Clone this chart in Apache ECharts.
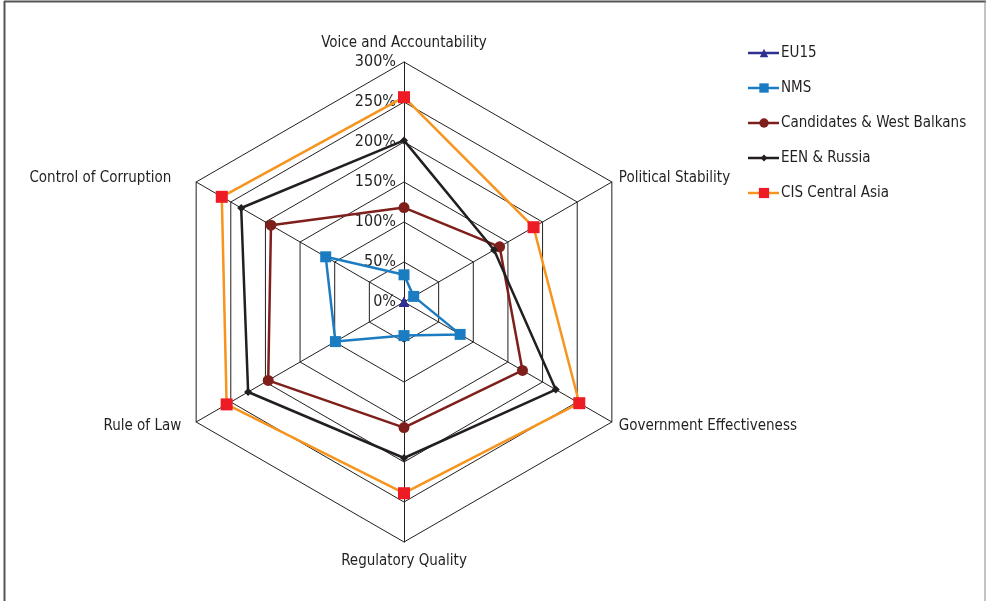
<!DOCTYPE html>
<html>
<head>
<meta charset="utf-8">
<script src="https://cdn.jsdelivr.net/npm/echarts@6/dist/echarts.min.js"></script>
<style>
html,body{margin:0;padding:0;background:#fff;}
#chart{width:986px;height:601px;}
</style>
</head>
<body>
<div id="chart"></div>
<script>
// Indicators in clockwise order starting from the top
const indicators = ['Voice and Accountability', 'Political Stability', 'Government Effectiveness', 'Regulatory Quality', 'Rule of Law', 'Control of Corruption'];
const seriesNames = ['EU15', 'NMS', 'Candidates & West Balkans', 'EEN & Russia', 'CIS Central Asia'];
const eu15 = [0, 0, 0, 0, 0, 0];
const nms = [34, 14, 81, 42, 99, 113];
const candidates = [118, 138, 171, 157, 196, 192];
const eenRussia = [202, 130, 219, 195, 225, 235];
const cisCentralAsia = [256, 187, 253, 239, 256, 263];
const tickValues = [0, 50, 100, 150, 200, 250, 300];

const values = [eu15, nms, candidates, eenRussia, cisCentralAsia];
const lineColors = ['#2e3192', '#1c7cc2', '#7f1f1c', '#231f20', '#f7941d'];
const markerColors = ['#2e3192', '#1c7cc2', '#7f1f1c', '#231f20', '#ed1c24'];
const symbols = ['triangle', 'rect', 'circle', 'diamond', 'rect'];
const symbolSizes = [10, 11, 11, 8, 12];

const FONT = '"DejaVu Sans Condensed", "Liberation Sans Narrow", sans-serif';
const FS = 15;
const TEXT = '#231f20';

// ECharts radar draws indicators counter-clockwise from the top; reorder to show them clockwise
const order = [0, 5, 4, 3, 2, 1];
const reorder = arr => order.map(i => arr[i]);

const indicatorOpts = reorder(indicators).map((n, i) => {
  const o = { name: n, min: tickValues[0], max: tickValues[tickValues.length - 1] };
  if (i === 0) o.axisLabel = { show: true };
  return o;
});

const richKey = {
  'Voice and Accountability': 'top',
  'Regulatory Quality': 'bottom',
  'Rule of Law': 'rol',
  'Control of Corruption': 'cc'
};

const chart = echarts.init(document.getElementById('chart'));

const legendLines = seriesNames.map((n, i) => {
  const y = 53 + i * 35;
  return { type: 'line', shape: { x1: 748, y1: y, x2: 779, y2: y }, style: { stroke: lineColors[i], lineWidth: 2.5 } };
});
const legendTexts = seriesNames.map((n, i) => {
  const y = 53 + i * 35;
  return { type: 'text', style: { text: n, x: 781, y: y, verticalAlign: 'middle', align: 'left', font: FS + 'px ' + FONT, fill: TEXT } };
});
const legendMarkers = seriesNames.map((n, i) => {
  const y = 53 + i * 35;
  const x = 764;
  const s = symbolSizes[i] * 0.85;
  if (symbols[i] === 'rect') return { type: 'rect', shape: { x: x - s / 2, y: y - s / 2, width: s, height: s }, style: { fill: markerColors[i] } };
  if (symbols[i] === 'circle') return { type: 'circle', shape: { cx: x, cy: y, r: s / 2 }, style: { fill: markerColors[i] } };
  if (symbols[i] === 'diamond') return { type: 'polygon', shape: { points: [[x, y - s / 2], [x + s / 2, y], [x, y + s / 2], [x - s / 2, y]] }, style: { fill: markerColors[i] } };
  return { type: 'polygon', shape: { points: [[x, y - s / 2], [x + s / 2, y + s / 2], [x - s / 2, y + s / 2]] }, style: { fill: markerColors[i] } };
});

chart.setOption({
  backgroundColor: '#fff',
  animation: false,
  graphic: [
    { type: 'line', shape: { x1: 4.5, y1: 1, x2: 4.5, y2: 601 }, style: { stroke: '#555', lineWidth: 2 } },
    { type: 'line', shape: { x1: 4, y1: 1.5, x2: 986, y2: 1.5 }, style: { stroke: '#555', lineWidth: 2 } },
    { type: 'line', shape: { x1: 985, y1: 1, x2: 985, y2: 601 }, style: { stroke: '#888', lineWidth: 1 } },
    ...legendLines,
    ...legendMarkers,
    ...legendTexts
  ],
  radar: {
    center: [404, 302],
    radius: 240,
    startAngle: 90,
    splitNumber: tickValues.length - 1,
    shape: 'polygon',
    indicator: indicatorOpts,
    axisName: {
      color: TEXT, fontSize: FS, fontFamily: FONT,
      formatter: n => richKey[n] ? '{' + richKey[n] + '|' + n + '}' : n,
      rich: {
        top: { fontSize: FS, fontFamily: FONT, color: TEXT, padding: [0, 0, 3, 0] },
        bottom: { fontSize: FS, fontFamily: FONT, color: TEXT, padding: [4, 0, 0, 0] },
        rol: { fontSize: FS, fontFamily: FONT, color: TEXT, padding: [0, 8, 0, 0] },
        cc: { fontSize: FS, fontFamily: FONT, color: TEXT, padding: [0, 18, 0, 0] }
      }
    },
    nameGap: 8,
    axisLine: { show: true, lineStyle: { color: TEXT, width: 1 } },
    axisTick: { show: false },
    axisLabel: { show: false, color: TEXT, fontSize: FS + 1, fontFamily: FONT, formatter: '{value}%', margin: 8 },
    splitLine: { show: true, lineStyle: { color: TEXT, width: 1 } },
    splitArea: { show: false }
  },
  series: [{
    type: 'radar',
    data: values.map((v, i) => ({
      name: seriesNames[i],
      value: reorder(v),
      symbol: symbols[i],
      symbolSize: symbolSizes[i],
      itemStyle: { color: markerColors[i] },
      lineStyle: { color: lineColors[i], width: 2.5 }
    }))
  }]
});
</script>
</body>
</html>
